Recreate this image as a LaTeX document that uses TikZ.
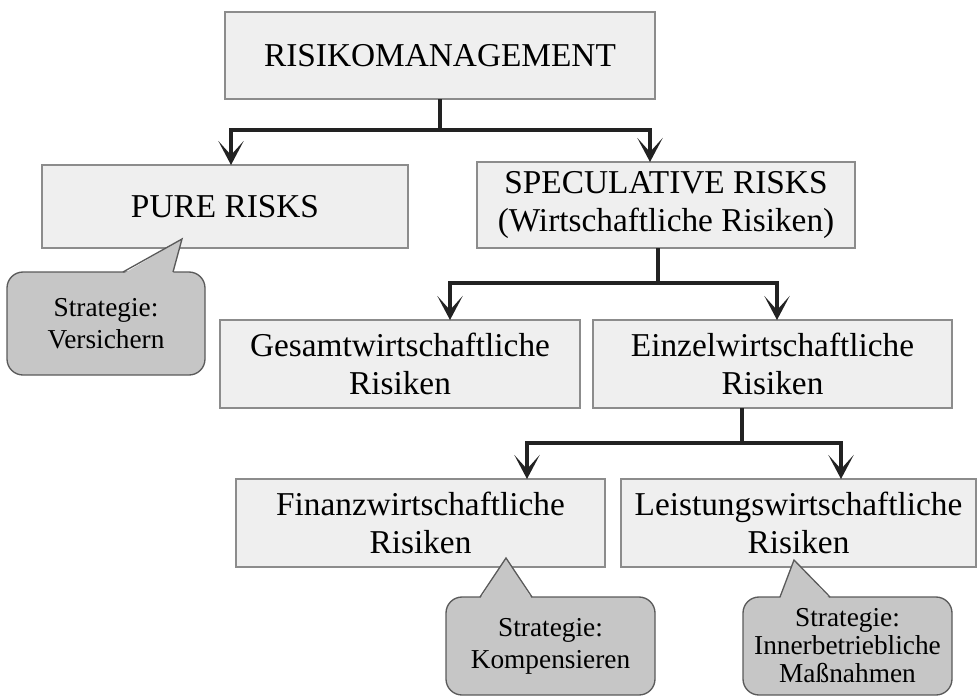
\documentclass[tikz,border=0pt]{standalone}
\usepackage{fontspec}
\setmainfont{Liberation Serif}
\usetikzlibrary{arrows.meta,calc}
\definecolor{boxfill}{HTML}{EFEFEF}
\definecolor{boxline}{HTML}{8C8C8C}
\definecolor{bubblefill}{HTML}{C6C6C6}
\definecolor{bubbleline}{HTML}{5A5A5A}
\definecolor{linkcolor}{HTML}{222222}

\begin{document}
\begin{tikzpicture}[x=0.75pt, y=-0.75pt,
	box/.style={draw=boxline, fill=boxfill, line width=1.5pt, align=center, inner sep=0pt, outer sep=0pt, font=\fontsize{25}{28.5}\selectfont},
	bubble/.style={draw=bubbleline, fill=bubblefill, line width=1pt, rounded corners=12pt, align=center, inner sep=0pt, outer sep=0pt, font=\fontsize{20.5}{24}\selectfont},
	pointer/.style={draw=bubbleline, line width=1pt},
	link/.style={draw=linkcolor, line width=3.2pt, -{Stealth[length=18pt,width=19pt,inset=10.5pt]}}]
	\useasboundingbox (0,0) rectangle (978,697);

	\node[box, minimum width=322.5pt, minimum height=65.25pt] (risk) at (440,55.5) {RISIKOMANAGEMENT};
	\node[box, minimum width=274.5pt, minimum height=62.25pt] (pure) at (225,206.5) {PURE RISKS};
	\node[box, minimum width=283.5pt, minimum height=64.5pt] (spec) at (666,205) {SPECULATIVE RISKS\\(Wirtschaftliche Risiken)};
	\node[box, minimum width=270pt, minimum height=66pt] (gesamt) at (400,364) {Gesamtwirtschaftliche\\Risiken};
	\node[box, minimum width=269.25pt, minimum height=66pt] (einzel) at (772.5,364) {Einzelwirtschaftliche\\Risiken};
	\node[box, minimum width=276.75pt, minimum height=66pt] (finanz) at (420.5,523) {Finanzwirtschaftliche\\Risiken};
	\node[box, minimum width=266.25pt, minimum height=66pt] (leist) at (798.5,523) {Leistungswirtschaftliche\\Risiken};

	\draw[link] (risk.south) -- ++(0,31) -| ($(pure.north)+(6,0)$);
	\draw[link] (risk.south) -- ++(0,31) -| ($(spec.north)+(-16,0)$);
	\draw[link] ($(spec.south)+(-8,0)$) -- ++(0,35) -| ($(gesamt.north)+(50,0)$);
	\draw[link] ($(spec.south)+(-8,0)$) -- ++(0,35) -| ($(einzel.north)+(4.5,0)$);
	\draw[link] ($(einzel.south)+(-30.5,0)$) -- ++(0,35) -| ($(finanz.north)+(106.5,0)$);
	\draw[link] ($(einzel.south)+(-30.5,0)$) -- ++(0,35) -| ($(leist.north)+(42.5,0)$);

	\node[bubble, minimum width=148.5pt, minimum height=77.25pt] (vers) at (106,323.5) {Strategie:\\Versichern};
	\coordinate (versTip) at (182,239);
	\fill[bubblefill] ($(vers.north)+(17,2)$) -- (versTip) -- ($(vers.north)+(67,2)$) -- cycle;
	\draw[pointer] ($(vers.north)+(17,0)$) -- (versTip) -- ($(vers.north)+(67,0)$);

	\node[bubble, minimum width=156.75pt, minimum height=73.5pt] (komp) at (550.5,646) {Strategie:\\Kompensieren};
	\coordinate (kompTip) at (506,558);
	\fill[bubblefill] ($(komp.north)+(-70.5,2)$) -- (kompTip) -- ($(komp.north)+(-18.5,2)$) -- cycle;
	\draw[pointer] ($(komp.north)+(-70.5,0)$) -- (kompTip) -- ($(komp.north)+(-18.5,0)$);

	\node[bubble, minimum width=156.75pt, minimum height=73.5pt, font=\fontsize{20.5}{21}\selectfont] (inner) at (847.5,646) {Strategie:\\Innerbetriebliche\\Maßnahmen};
	\coordinate (innerTip) at (794,560);
	\fill[bubblefill] ($(inner.north)+(-67.5,2)$) -- (innerTip) -- ($(inner.north)+(-17.5,2)$) -- cycle;
	\draw[pointer] ($(inner.north)+(-67.5,0)$) -- (innerTip) -- ($(inner.north)+(-17.5,0)$);
\end{tikzpicture}
\end{document}
